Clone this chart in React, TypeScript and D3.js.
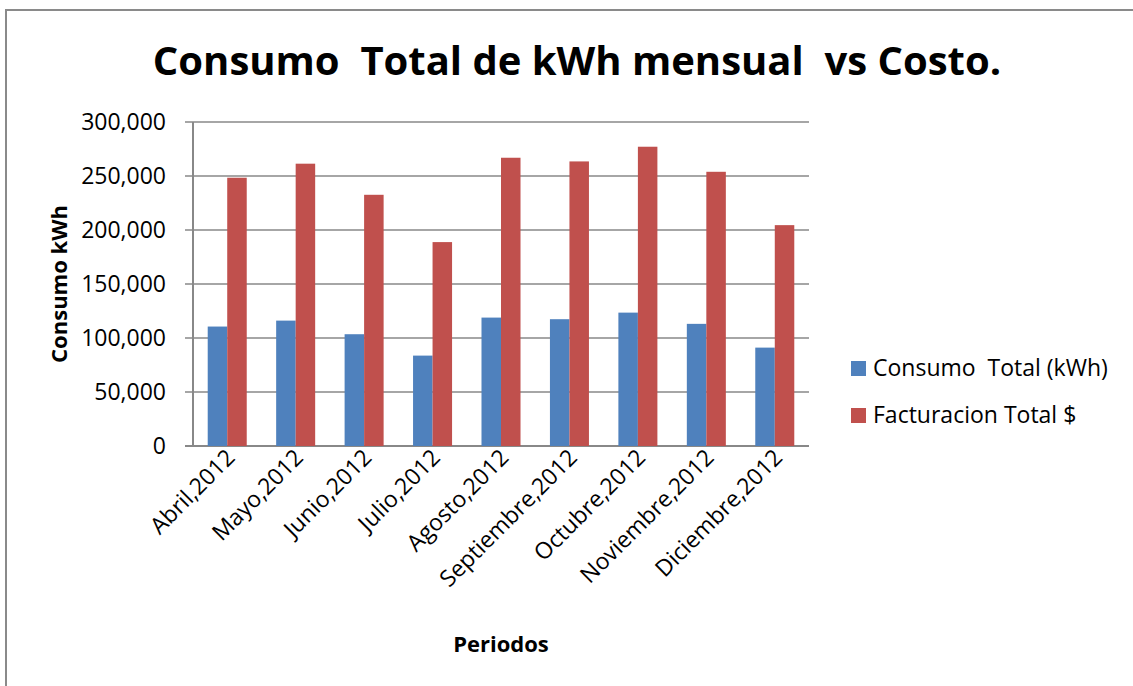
import React from "react";
import * as d3 from "d3";

const categories = [
  "Abril,2012",
  "Mayo,2012",
  "Junio,2012",
  "Julio,2012",
  "Agosto,2012",
  "Septiembre,2012",
  "Octubre,2012",
  "Noviembre,2012",
  "Diciembre,2012",
];
const consumoKwh = [110600, 116100, 103500, 83700, 118900, 117400, 123500, 113100, 91100];
const facturacion = [248400, 261400, 232600, 188800, 266900, 263500, 277100, 253900, 204500];
const seriesNames = ["Consumo  Total (kWh)", "Facturacion Total $"];
const seriesColors = ["#4F81BD", "#C0504D"];
const yTicks = [0, 50000, 100000, 150000, 200000, 250000, 300000];

const W = 1133;
const H = 686;
const plot = { left: 193, right: 809, top: 122, bottom: 446 };
const FONT = "'Open Sans', Lato, sans-serif";

export default function App() {
  const x = d3
    .scaleBand<string>()
    .domain(categories)
    .range([plot.left, plot.right])
    .paddingInner(0.43)
    .paddingOuter(0.215);
  const xs = d3.scaleBand<string>().domain(seriesNames).range([0, x.bandwidth()]);
  const y = d3.scaleLinear().domain([0, 300000]).range([plot.bottom, plot.top]);
  const fmt = d3.format(",");
  const series = [consumoKwh, facturacion];

  return (
    <svg
      width={W}
      height={H}
      style={{ position: "fixed", left: 0, top: 0, background: "#fff" }}
      fontFamily={FONT}
    >
      <rect x={0} y={0} width={W} height={H} fill="#fff" />
      {/* outer chart border */}
      <path d={`M6,${H + 5} L6,10 L${W + 5},10`} fill="none" stroke="#8a8a8a" strokeWidth={2} />

      {/* title */}
      <text
        x={577}
        y={75}
        textAnchor="middle"
        fontWeight="bold"
        fontSize={40}
        fill="#000"
        style={{ whiteSpace: "pre" }}
      >
        {"Consumo  Total de kWh mensual  vs Costo."}
      </text>

      {/* gridlines */}
      {yTicks.map((t) => (
        <line
          key={"g" + t}
          x1={plot.left - 8}
          x2={plot.right}
          y1={y(t)}
          y2={y(t)}
          stroke="#888"
          strokeWidth={t === 0 ? 2 : 1.6}
        />
      ))}
      {/* y axis line */}
      <line x1={plot.left} x2={plot.left} y1={plot.top} y2={plot.bottom} stroke="#888" strokeWidth={2} />

      {/* y tick labels */}
      {yTicks.map((t) => (
        <text key={"t" + t} x={166} y={y(t) + 8} textAnchor="end" fontSize={23} fill="#000">
          {fmt(t)}
        </text>
      ))}

      {/* bars */}
      {categories.map((c, i) => (
        <g key={c}>
          {series.map((s, j) => (
            <rect
              key={j}
              x={(x(c) as number) + (xs(seriesNames[j]) as number)}
              y={y(s[i])}
              width={xs.bandwidth()}
              height={y(0) - y(s[i])}
              fill={seriesColors[j]}
            />
          ))}
        </g>
      ))}

      {/* category labels */}
      {categories.map((c) => {
        const cx = (x(c) as number) + x.bandwidth() / 2 + 9;
        return (
          <text
            key={"l" + c}
            transform={`translate(${cx},${plot.bottom + 13}) rotate(-45)`}
            textAnchor="end"
            fontSize={23}
            fill="#000"
          >
            {c}
          </text>
        );
      })}

      {/* axis titles */}
      <text
        transform={`translate(67,${(plot.top + plot.bottom) / 2}) rotate(-90)`}
        textAnchor="middle"
        fontWeight="bold"
        fontSize={22}
        fill="#000"
      >
        Consumo kWh
      </text>
      <text x={(plot.left + plot.right) / 2} y={652} textAnchor="middle" fontWeight="bold" fontSize={22} fill="#000">
        Periodos
      </text>

      {/* legend */}
      {seriesNames.map((n, j) => (
        <g key={n} transform={`translate(851,${361 + j * 47})`}>
          <rect x={0} y={0} width={15} height={15} fill={seriesColors[j]} />
          <text x={22} y={15} fontSize={23} fill="#000" style={{ whiteSpace: "pre" }}>
            {n}
          </text>
        </g>
      ))}
    </svg>
  );
}
